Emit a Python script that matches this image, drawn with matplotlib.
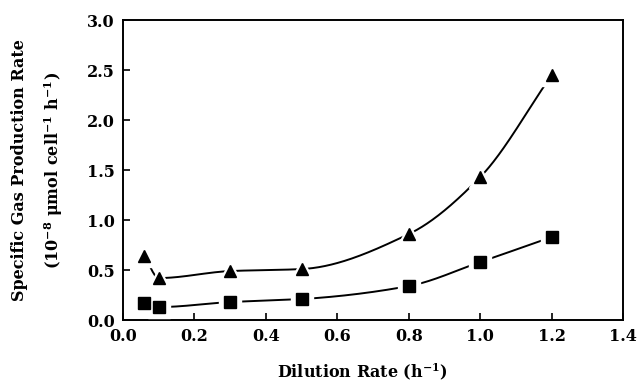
import numpy as np
import matplotlib
matplotlib.use('Agg')
import matplotlib.pyplot as plt

# dilution rate (h-1)
dilution = [0.06, 0.10, 0.30, 0.50, 0.80, 1.00, 1.20]
# specific gas production rates (10^-8 umol cell-1 h-1)
gas_triangle = [0.64, 0.42, 0.49, 0.51, 0.86, 1.43, 2.45]
gas_square = [0.17, 0.13, 0.18, 0.21, 0.34, 0.58, 0.83]

x_ticks = [0.0, 0.2, 0.4, 0.6, 0.8, 1.0, 1.2, 1.4]
y_ticks = [0.0, 0.5, 1.0, 1.5, 2.0, 2.5, 3.0]


def smooth_curve(x, y, n=400):
    # monotone cubic (Fritsch-Carlson) for the hand drawn curve, no overshoot
    x = np.asarray(x, float)
    y = np.asarray(y, float)
    h = np.diff(x)
    d = np.diff(y) / h
    m = np.zeros(len(x))
    m[0], m[-1] = d[0], d[-1]
    for i in range(1, len(x) - 1):
        if d[i - 1] * d[i] > 0:
            w1 = 2 * h[i] + h[i - 1]
            w2 = h[i] + 2 * h[i - 1]
            m[i] = (w1 + w2) / (w1 / d[i - 1] + w2 / d[i])
    xs = np.linspace(x[0], x[-1], n)
    idx = np.clip(np.searchsorted(x, xs) - 1, 0, len(x) - 2)
    t = (xs - x[idx]) / h[idx]
    h00 = 2 * t ** 3 - 3 * t ** 2 + 1
    h10 = t ** 3 - 2 * t ** 2 + t
    h01 = -2 * t ** 3 + 3 * t ** 2
    h11 = t ** 3 - t ** 2
    ys = (h00 * y[idx] + h10 * h[idx] * m[idx]
          + h01 * y[idx + 1] + h11 * h[idx] * m[idx + 1])
    return xs, ys


plt.rcParams['font.family'] = 'DejaVu Serif'
plt.rcParams['font.weight'] = 'bold'
plt.rcParams['mathtext.fontset'] = 'dejavuserif'
plt.rcParams['mathtext.default'] = 'bf'

fig = plt.figure(figsize=(6.41, 3.87), dpi=100)
ax = fig.add_axes([0.192, 0.173, 0.780, 0.775])

for ys, mk, ms in [(gas_triangle, '^', 8.5), (gas_square, 's', 8.5)]:
    cx, cy = smooth_curve(dilution, ys)
    ax.plot(cx, cy, color='black', lw=1.4, zorder=2)
    # white halo so the line stops short of each symbol
    ax.plot(dilution, ys, ls='none', marker=mk, ms=ms + 7, color='white',
            mec='white', zorder=3)
    ax.plot(dilution, ys, ls='none', marker=mk, ms=ms, color='black', zorder=4)

ax.set_xlim(0, 1.4)
ax.set_ylim(0, 3.0)
ax.set_xticks(x_ticks)
ax.set_yticks(y_ticks)
ax.set_xticklabels([f'{v:.1f}' for v in x_ticks], fontsize=11.5, fontweight='bold')
ax.set_yticklabels([f'{v:.1f}' for v in y_ticks], fontsize=11.5, fontweight='bold')
ax.tick_params(direction='in', length=5, width=1.2, pad=6)
for s in ax.spines.values():
    s.set_linewidth(1.4)

fig.text(0.565, 0.04, 'Dilution Rate (h$^{-1}$)', fontsize=11.5,
         fontweight='bold', ha='center', va='center')
fig.text(0.031, 0.56, 'Specific Gas Production Rate', fontsize=11.5,
         fontweight='bold', rotation=90, ha='center', va='center')
fig.text(0.083, 0.56, '(10$^{-8}$ μmol cell$^{-1}$ h$^{-1}$)', fontsize=11.5,
         fontweight='bold', rotation=90, ha='center', va='center')

fig.savefig('out.png', dpi=100)
